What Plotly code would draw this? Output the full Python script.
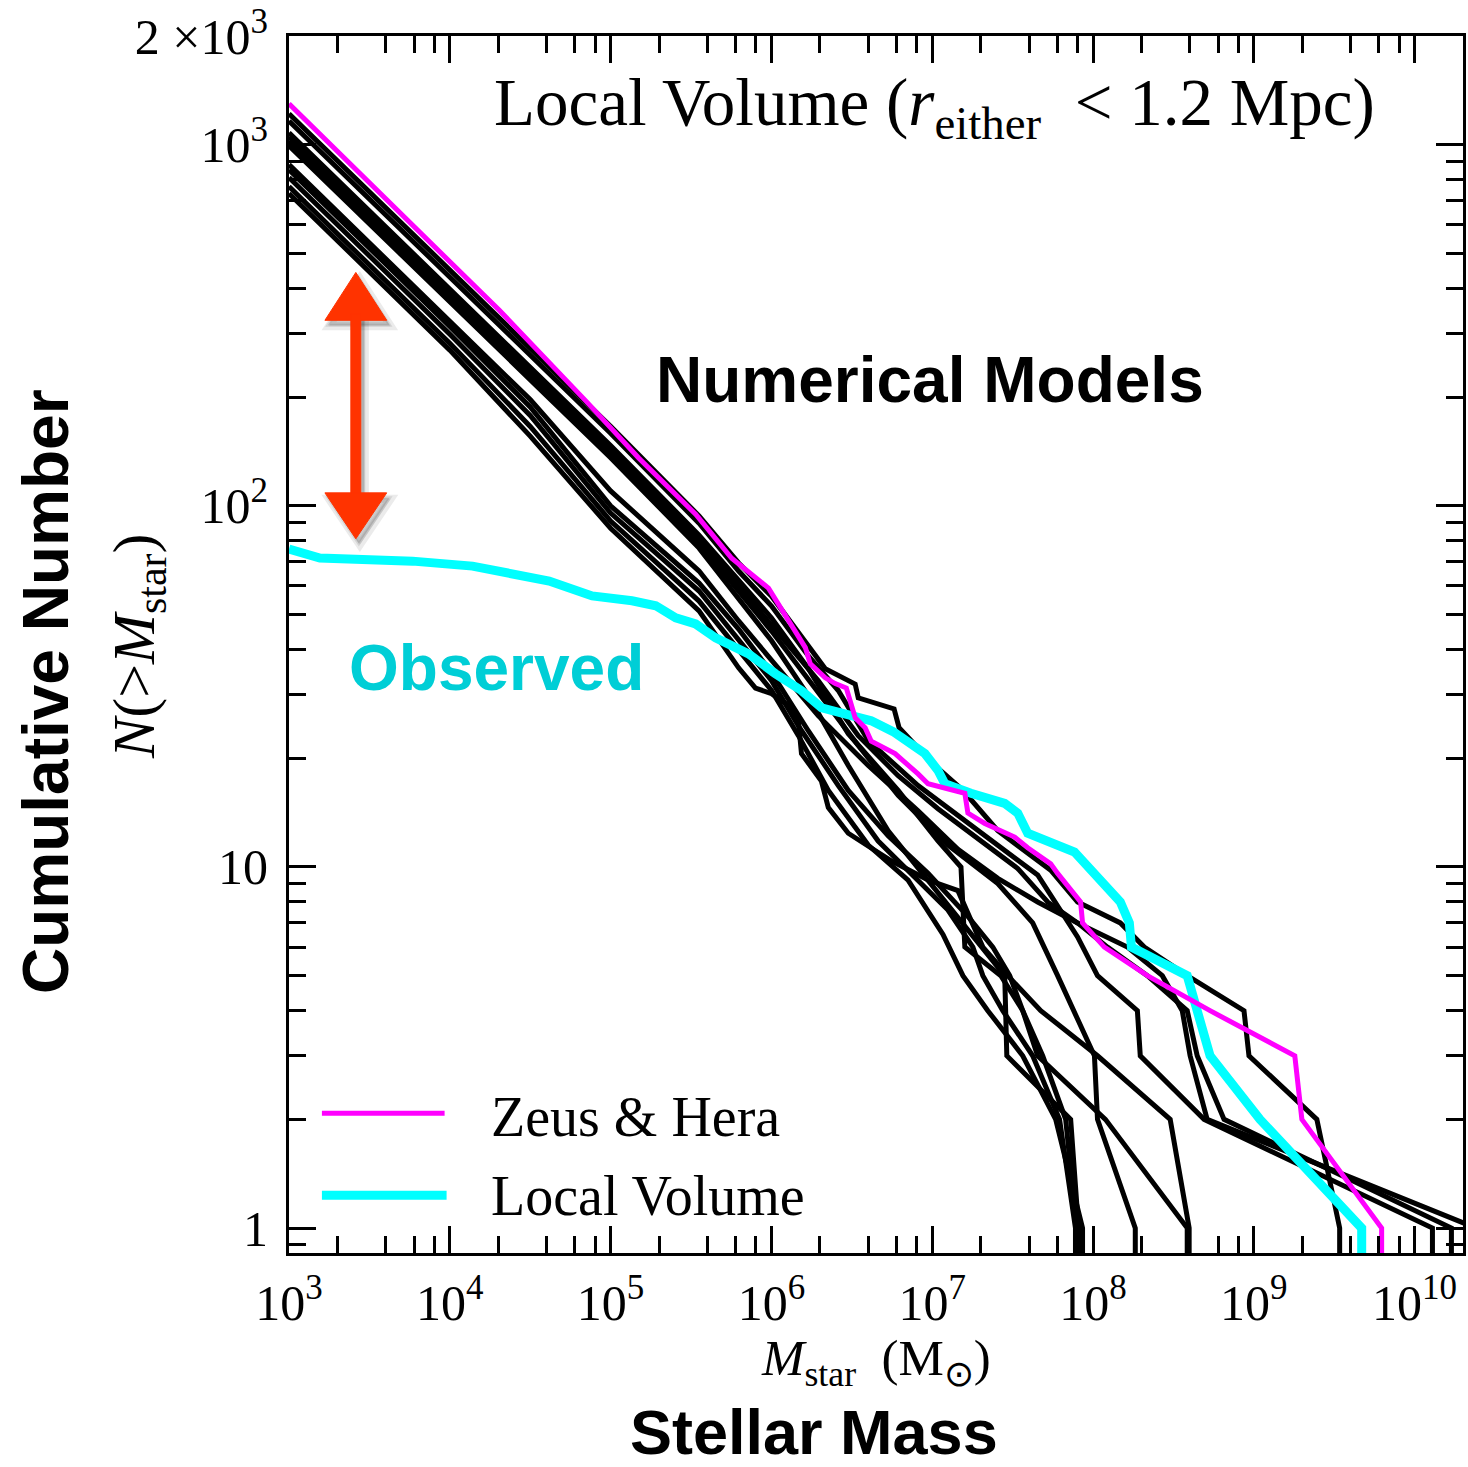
import numpy as np
import plotly.graph_objects as go

# ---------------------------------------------------------------
# Cumulative stellar mass functions N(>M_star); masses stored as log10(M/Msun).
# A trailing count of 0 marks where the cumulative count drops to zero.
# ---------------------------------------------------------------

# Zeus & Hera (paired halo)
zh_logm = [3.0, 3.688, 4.308, 4.847, 5.176, 5.529, 5.753, 5.982, 6.106, 6.211, 6.242, 6.335,
           6.397, 6.466, 6.521, 6.583, 6.621, 6.769, 6.912, 6.974, 7.203, 7.222, 7.327, 7.513,
           7.594, 7.737, 7.780, 7.923, 7.935, 8.071, 8.338, 8.728, 9.255, 9.299, 9.795, 9.795]
zh_n = [1298, 649, 348, 195, 135.5, 94.8, 71.6, 59.2, 48, 40.5, 36.5, 33.4,
        32.2, 31.3, 25.9, 24.3, 22.3, 20.6, 18.1, 17.0, 16.0, 14.1, 13.2, 12.1,
        11.3, 10.2, 9.6, 8, 7, 6, 5, 4, 3, 2, 1, 0]

# Observed Local Volume galaxies
lv_logm = [3.0, 3.192, 3.769, 4.141, 4.618, 4.885, 5.133, 5.281, 5.405, 5.529, 5.653, 5.858,
           6.025, 6.187, 6.311, 6.478, 6.621, 6.757, 6.955, 7.036, 7.079, 7.241, 7.451, 7.532,
           7.594, 7.885, 7.966, 8.059, 8.170, 8.226, 8.239, 8.586, 8.642, 8.728, 9.038, 9.671, 9.671]
lv_n = [75.9, 71.7, 70.3, 68.1, 61.9, 56.3, 54.6, 52.9, 49.0, 47.1, 43.1, 38.9,
        34.3, 30.8, 27.6, 26.4, 25.4, 23.7, 20.6, 18.5, 17.0, 16.0, 15.0, 14.1,
        12.4, 11, 10, 9, 8, 7, 6, 5, 4, 3, 2, 1, 0]

# Numerical models (one list pair per simulated volume)
m01_logm = [3.0, 3.5, 4.0, 4.5, 5.0, 5.55, 5.796, 6.001, 6.168, 6.335, 6.521, 6.540, 6.763, 6.794,
            7.005, 7.191, 7.408, 7.737, 7.904, 8.170, 8.319, 8.586, 8.939, 8.970, 9.392, 9.534, 9.534]
m01_n = [1219, 741, 449, 273, 166, 93.8, 69.5, 56.2, 44.5, 35.4, 32.1, 29.4, 27.4, 24.3,
         19.3, 16.3, 12.6, 9.8, 8, 7, 6, 5, 4, 3, 2, 1, 0]

m02_logm = [3.0, 3.5, 4.0, 4.5, 5.0, 5.55, 5.796, 6.001, 6.230, 6.416, 6.602, 6.912, 7.160, 7.408,
            7.656, 7.904, 8.028, 8.276, 8.294, 8.691, 10.111, 10.111]
m02_n = [1164, 708, 429, 261, 159, 89.5, 66.0, 52.8, 38.4, 30.8, 22.4, 16.8, 13.9, 11.5,
         9.5, 6.4, 5, 4, 3, 2, 1, 0]

m03_logm = [3.0, 3.5, 4.0, 4.5, 5.0, 5.55, 5.796, 6.001, 6.230, 6.478, 6.788, 7.036, 7.179, 7.203,
            7.427, 7.563, 7.687, 7.830, 7.898, 7.898]
m03_n = [1079, 656, 397, 242, 147, 83.0, 61.9, 48.9, 35.4, 23.4, 16.3, 11.8, 10, 6,
         5, 4, 3, 2, 1, 0]

m04_logm = [3.0, 3.5, 4.0, 4.5, 5.0, 5.55, 5.796, 6.001, 6.292, 6.540, 6.788, 7.036, 7.284, 7.532,
            7.718, 7.904, 8.090, 8.338, 8.586, 8.648, 8.815, 10.229, 10.229]
m04_n = [1052, 640, 387, 236, 144, 80.9, 60.0, 46.5, 32.8, 23.1, 17.9, 14.5, 12.0, 9.9,
         8, 7, 6, 5, 4, 3, 2, 1, 0]

m05_logm = [3.0, 3.5, 4.0, 4.5, 5.0, 5.55, 5.796, 6.001, 6.261, 6.540, 6.788, 7.098, 7.408, 7.625,
            7.780, 8.009, 8.028, 8.263, 8.263]
m05_n = [1026, 624, 378, 230, 140, 78.9, 58.1, 45.0, 31.7, 21.7, 15.8, 11.5, 9, 7,
         5, 3, 2, 1, 0]

m06_logm = [3.0, 3.5, 4.0, 4.5, 5.0, 5.55, 5.796, 6.001, 6.230, 6.478, 6.726, 6.974, 7.222, 7.451,
            7.464, 7.861, 7.910, 7.910]
m06_n = [993, 604, 366, 222, 136, 76.4, 55.2, 42.3, 29.8, 19.1, 12.6, 9.2, 6.7, 5,
         3, 2, 1, 0]

m07_logm = [3.0, 3.5, 4.0, 4.5, 5.0, 5.55, 5.796, 6.001, 6.292, 6.602, 6.912, 7.160, 7.408, 7.656,
            7.904, 8.214, 8.431, 8.555, 8.604, 8.710, 10.384, 10.384]
m07_n = [881, 536, 324, 197, 110, 66.0, 48.0, 37.2, 26.2, 19.1, 14.3, 11.2, 9.3, 8,
         7, 6, 5, 4, 3, 2, 1, 0]

m08_logm = [3.0, 3.5, 4.0, 4.5, 5.0, 5.55, 5.796, 6.001, 6.230, 6.478, 6.726, 6.974, 7.222, 7.377,
            7.482, 7.563, 7.656, 8.077, 8.586, 8.586]
m08_n = [853, 519, 314, 188, 100, 61.1, 45.6, 34.5, 23.8, 16.3, 12.2, 9.6, 7.3, 6,
         5, 4, 3, 2, 1, 0]

m09_logm = [3.0, 3.5, 4.0, 4.5, 5.0, 5.55, 5.796, 6.001, 6.168, 6.416, 6.664, 6.912, 7.098, 7.253,
            7.315, 7.439, 7.625, 7.792, 7.891, 7.891]
m09_n = [811, 493, 299, 178, 95.5, 58.1, 42.3, 32.8, 24.6, 16.8, 11.8, 9.2, 7.6, 6,
         5, 4, 3, 2, 1, 0]

m10_logm = [3.0, 3.5, 4.0, 4.5, 5.0, 5.55, 5.796, 6.001, 6.168, 6.354, 6.602, 6.850, 7.067, 7.191,
            7.346, 7.563, 7.768, 7.935, 7.935]
m10_n = [766, 466, 282, 166, 90.8, 54.5, 39.7, 30.8, 23.1, 16.3, 11.5, 9.2, 6.5, 5,
         4, 3, 2, 1, 0]

m11_logm = [3.0, 3.5, 4.0, 4.5, 5.0, 5.55, 5.796, 5.901, 6.001, 6.125, 6.168, 6.187, 6.311, 6.354,
            6.478, 6.745, 6.974, 7.160, 7.315, 7.470, 7.675, 8.028, 8.480, 8.598, 8.598]
m11_n = [733, 446, 270, 156, 86.7, 51.2, 35.6, 31.3, 30.2, 27.6, 25.4, 20.6, 17.3, 14.6,
         12.4, 10.4, 9.2, 8.6, 6, 5, 4, 3, 2, 1, 0]

models = [(m01_logm, m01_n), (m02_logm, m02_n), (m03_logm, m03_n), (m04_logm, m04_n),
          (m05_logm, m05_n), (m06_logm, m06_n), (m07_logm, m07_n), (m08_logm, m08_n),
          (m09_logm, m09_n), (m10_logm, m10_n), (m11_logm, m11_n)]

# Axis ticks
x_major = [1e3, 1e4, 1e5, 1e6, 1e7, 1e8, 1e9, 1e10]
x_major_text = ["10<sup>3</sup>", "10<sup>4</sup>", "10<sup>5</sup>", "10<sup>6</sup>",
                "10<sup>7</sup>", "10<sup>8</sup>", "10<sup>9</sup>", "10<sup>10</sup>"]
y_major = [1, 10, 100, 1000, 2000]
y_major_text = ["1", "10", "10<sup>2</sup>", "10<sup>3</sup>", "2 ×10<sup>3</sup>"]

x_minor = [m * 10.0 ** k for k in range(3, 11) for m in (2, 4, 6, 8)]
y_minor = [m * 10.0 ** k for k in range(-1, 4) for m in range(2, 10)]

# Zero counts cannot be shown on a log axis: draw the drop to a level below the frame.
N_FLOOR = 0.5


def xy(logm, n):
    x = [10.0 ** v for v in logm]
    y = [v if v > 0 else N_FLOOR for v in n]
    return x, y


fig = go.Figure()

for lm, n in models:
    x, y = xy(lm, n)
    fig.add_trace(go.Scatter(x=x, y=y, mode="lines",
                             line=dict(color="black", width=5), hoverinfo="skip"))

x, y = xy(lv_logm, lv_n)
fig.add_trace(go.Scatter(x=x, y=y, mode="lines", name="Local Volume",
                         line=dict(color="#00ffff", width=9)))
x, y = xy(zh_logm, zh_n)
fig.add_trace(go.Scatter(x=x, y=y, mode="lines", name="Zeus & Hera",
                         line=dict(color="#ff00ff", width=5)))

# Frame geometry (pixels)
L, R, T, B = 289, 1466, 33, 1253
W, H = R - L, B - T


def px(xp):
    return (xp - L) / W


def py(yp):
    return (B - yp) / H


SERIF = "Liberation Serif"
SANS = "Liberation Sans"

tick_font = dict(family=SERIF, size=50, color="black")
fig.update_xaxes(type="log", range=[3, np.log10(2e10)],
                 tickmode="array", tickvals=x_major, ticktext=x_major_text,
                 ticks="inside", ticklen=27, tickwidth=3, tickcolor="black",
                 showline=True, linewidth=3, linecolor="black", mirror="ticks",
                 showgrid=False, zeroline=False, tickfont=tick_font,
                 ticklabelstandoff=4, ticklabeloverflow="allow",
                 minor=dict(tickmode="array", tickvals=x_minor, ticks="inside", ticklen=17,
                            tickwidth=3, tickcolor="black", showgrid=False))
fig.update_yaxes(type="log", range=[np.log10(0.853), np.log10(2000) + 0.0002],
                 tickmode="array", tickvals=y_major, ticktext=y_major_text,
                 ticks="inside", ticklen=27, tickwidth=3, tickcolor="black",
                 showline=True, linewidth=3, linecolor="black", mirror="ticks",
                 showgrid=False, zeroline=False, tickfont=tick_font,
                 ticklabelstandoff=8, ticklabeloverflow="allow",
                 minor=dict(tickmode="array", tickvals=y_minor, ticks="inside", ticklen=17,
                            tickwidth=3, tickcolor="black", showgrid=False))

annotations = [
    dict(x=px(493), y=py(104), xanchor="left", yanchor="middle",
         text="Local Volume (<i>r</i><sub>either</sub>  &lt; 1.2 Mpc)",
         font=dict(family=SERIF, size=67, color="black")),
    dict(x=px(932), y=py(378), xanchor="center", yanchor="middle",
         text="<b>Numerical Models</b>", font=dict(family=SANS, size=64, color="black")),
    dict(x=px(497), y=py(667), xanchor="center", yanchor="middle",
         text="<b>Observed</b>", font=dict(family=SANS, size=64, color="#00ced6")),
    dict(x=px(46), y=py(690), xanchor="center", yanchor="middle", textangle=-90,
         text="<b>Cumulative Number</b>", font=dict(family=SANS, size=64, color="black")),
    dict(x=px(138), y=py(645), xanchor="center", yanchor="middle", textangle=-90,
         text="<i>N</i>(&gt;<i>M</i><sub>star</sub>)", font=dict(family=SERIF, size=60, color="black")),
    dict(x=px(878), y=py(1362), xanchor="center", yanchor="middle",
         text="<i>M</i><sub>star</sub>  (M<sub>⊙</sub>)", font=dict(family=SERIF, size=51, color="black")),
    dict(x=px(815), y=py(1432), xanchor="center", yanchor="middle",
         text="<b>Stellar Mass</b>", font=dict(family=SANS, size=63, color="black")),
    dict(x=px(490), y=py(1117), xanchor="left", yanchor="middle",
         text="Zeus &amp; Hera", font=dict(family=SERIF, size=56, color="black")),
    dict(x=px(490), y=py(1196), xanchor="left", yanchor="middle",
         text="Local Volume", font=dict(family=SERIF, size=56, color="black")),
]
for a in annotations:
    a.update(xref="paper", yref="paper", showarrow=False)

shapes = [
    # legend samples
    dict(type="line", xref="paper", yref="paper", x0=px(322), x1=px(445), y0=py(1113), y1=py(1113),
         line=dict(color="#ff00ff", width=5)),
    dict(type="line", xref="paper", yref="paper", x0=px(322), x1=px(447), y0=py(1195), y1=py(1195),
         line=dict(color="#00ffff", width=9)),
]


def arrow_path(dx=0.0, dy=0.0):
    cx = 356 + dx
    pts_top = [(cx, 270 + dy), (cx - 31, 318 + dy), (cx + 31, 318 + dy)]
    pts_bot = [(cx - 31, 491 + dy), (cx + 31, 491 + dy), (cx, 537 + dy)]
    shaft = [(cx - 5, 312 + dy), (cx + 5, 312 + dy), (cx + 5, 497 + dy), (cx - 5, 497 + dy)]
    out = []
    for poly in (pts_top, shaft, pts_bot):
        s = "M " + " L ".join(f"{px(a):.5f},{py(b):.5f}" for a, b in poly) + " Z"
        out.append(s)
    return out


# soft drop shadow under the double arrow
for p in arrow_path(4, 6):
    shapes.append(dict(type="path", xref="paper", yref="paper", path=p,
                       fillcolor="rgba(60,60,60,0.10)", line=dict(color="rgba(60,60,60,0.10)", width=8)))
for p in arrow_path(3, 5):
    shapes.append(dict(type="path", xref="paper", yref="paper", path=p,
                       fillcolor="rgba(60,60,60,0.18)", line=dict(color="rgba(60,60,60,0.12)", width=3)))
for p in arrow_path():
    shapes.append(dict(type="path", xref="paper", yref="paper", path=p,
                       fillcolor="#ff3300", line=dict(color="#ff3300", width=1)))

fig.update_layout(width=1468, height=1467,
                  margin=dict(l=L, r=1468 - R, t=T, b=1467 - B, pad=0),
                  paper_bgcolor="white", plot_bgcolor="white",
                  showlegend=False, annotations=annotations, shapes=shapes)

fig.write_html("out.html")
